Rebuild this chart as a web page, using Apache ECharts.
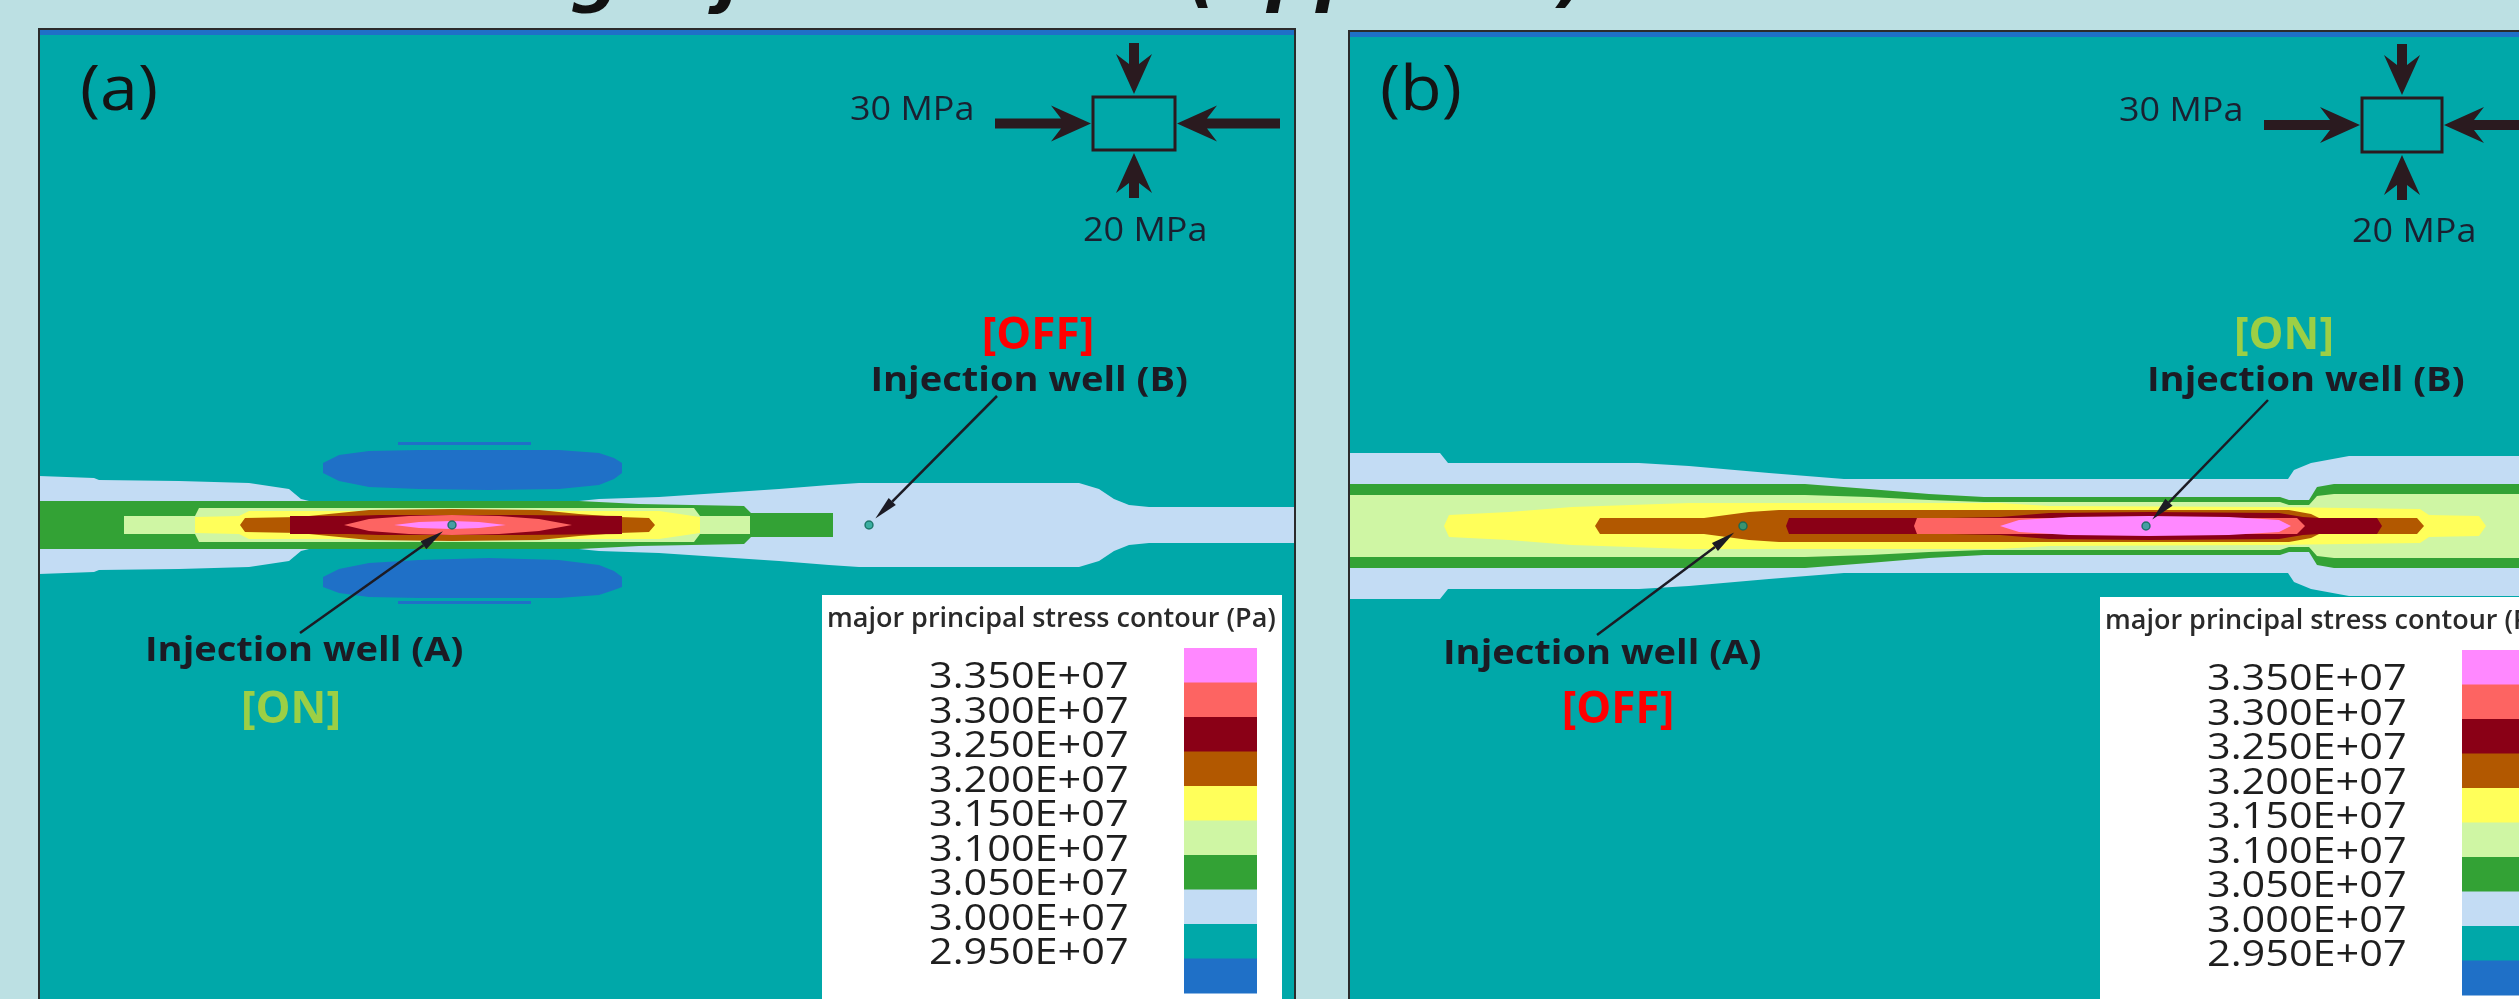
<!DOCTYPE html>
<html>
<head>
<meta charset="utf-8">
<script src="https://cdn.jsdelivr.net/npm/echarts@6/dist/echarts.min.js"></script>
<style>
  html, body { margin: 0; padding: 0; background: #bce0e3; }
  #chart { width: 2519px; height: 999px; }
</style>
</head>
<body>
<div id="chart"></div>
<script>
// Contour levels printed on the colour key (Pa), highest first
const levelLabels = ['3.350E+07', '3.300E+07', '3.250E+07', '3.200E+07', '3.150E+07',
                     '3.100E+07', '3.050E+07', '3.000E+07', '2.950E+07'];
// Key colours, top to bottom: >=3.35, 3.30-3.35, ..., 2.95-3.00, <2.95
const keyColors = ['#ff88ff', '#fd6462', '#8a0016', '#b25800', '#ffff5a',
                   '#cff6a4', '#33a235', '#c3dcf4', '#00a8a9', '#1f70c7'];
// colour index per stress band
const C = { p335: 0, p330: 1, p325: 2, p320: 3, p315: 4, p310: 5, p305: 6, p300: 7, bg: 8, low: 9 };

// ---- Panel (a): well A injecting, well B shut in ----
// symmetric bands: [x along fracture line, half-thickness]  (model units)
const aAbove300 = [[0,49],[55,47],[60,45],[140,44],[210,42],[250,36],[262,26],[270,24],[540,24],[560,26],[620,28],[680,32],[740,36],[790,40],[820,42],[1040,42],[1060,36],[1075,26],[1090,20],[1110,18],[1256,18]];
const aAbove305 = [[0,24],[540,24],[600,21],[705,19],[712,12],[794,12]];
const aAbove310 = [[85,9],[156,9],[160,17],[655,17],[661,9],[711,9]];
const aAbove315 = [[156,8],[200,9],[210,14],[620,14],[661,8]];
const aAbove320 = [[201,0],[206,7],[260,8],[300,12],[330,15],[413,16],[500,15],[540,11],[580,8],[610,7],[616,0]];
const aAbove325 = [[251,9],[310,9],[340,10],[413,10],[480,10],[583,9]];
const aAbove330 = [[305,0],[330,6],[370,9],[413,10],[460,9],[500,6],[533,0]];
const aAbove335 = [[355,0],[380,3],[413,4],[440,3],[467,0]];
// unsymmetric low-stress zones: [x, lower edge, upper edge]
const aTopLow   = [[0,490,496],[1256,490,496]];
const aLobeUp   = [[284,52,62],[300,44,70],[330,38,74],[380,36,75],[450,35,75],[520,36,75],[560,40,72],[575,46,67],[583,52,62]];
const aLineUp   = [[359,80,83],[492,80,83]];
const aLobeDown = [[284,-62,-52],[300,-68,-44],[330,-72,-38],[380,-73,-35],[450,-73,-33],[520,-73,-35],[560,-70,-40],[575,-65,-46],[583,-62,-52]];
const aLineDown = [[359,-79,-76],[492,-79,-76]];
const aWells = [[413, 0], [830, 0]];

// ---- Panel (b): well B injecting, well A shut in ----
const bAbove300 = [[0,73],[91,73],[99,63],[290,63],[340,60],[420,53],[495,47],[939,47],[945,56],[962,63],[1000,70],[1256,70]];
const bAbove305 = [[0,42],[456,42],[520,37],[580,32],[635,29],[931,29],[940,26],[960,26],[968,39],[985,42],[1256,42]];
const bAbove310 = [[0,31],[456,31],[520,29],[580,26],[635,24],[931,24],[940,21],[960,21],[968,30],[985,32],[1256,32]];
const bAbove315 = [[95,0],[100,11],[160,14],[223,19],[340,23],[651,23],[700,20],[923,19],[1071,17],[1080,11],[1130,10],[1137,0]];
const bAbove320 = [[246,0],[251,8],[355,8],[400,14],[430,16],[940,16],[962,12],[970,8],[1068,8],[1075,0]];
const bAbove325 = [[437,0],[440,8],[561,8],[600,8],[651,9],[700,13],[800,14],[930,13],[954,9],[970,8],[1028,8],[1033,0]];
const bAbove330 = [[565,0],[568,8],[948,8],[956,0]];
const bAbove335 = [[651,0],[670,6],[720,9],[800,10],[880,9],[930,6],[942,0]];
const bTopLow   = [[0,489,495],[1256,489,495]];
const bWells = [[394, 0], [797, 0]];

// painter's order: low zones first, then each band drawn over the one below it
const fieldA = [
  { c: C.low, pts: aTopLow }, { c: C.low, pts: aLobeUp }, { c: C.low, pts: aLineUp },
  { c: C.low, pts: aLobeDown }, { c: C.low, pts: aLineDown },
  { c: C.p300, sym: true, pts: aAbove300 }, { c: C.p305, sym: true, pts: aAbove305 },
  { c: C.p310, sym: true, pts: aAbove310 }, { c: C.p315, sym: true, pts: aAbove315 },
  { c: C.p320, sym: true, pts: aAbove320 }, { c: C.p325, sym: true, pts: aAbove325 },
  { c: C.p330, sym: true, pts: aAbove330 }, { c: C.p335, sym: true, pts: aAbove335 }
];
const fieldB = [
  { c: C.low, pts: bTopLow },
  { c: C.p300, sym: true, pts: bAbove300 }, { c: C.p305, sym: true, pts: bAbove305 },
  { c: C.p310, sym: true, pts: bAbove310 }, { c: C.p315, sym: true, pts: bAbove315 },
  { c: C.p320, sym: true, pts: bAbove320 }, { c: C.p325, sym: true, pts: bAbove325 },
  { c: C.p330, sym: true, pts: bAbove330 }, { c: C.p335, sym: true, pts: bAbove335 }
];

// visible part of each model window (the panels run past the page edge)
const VIEW = [
  { left: 39,   top: 29, xMax: 1256, yMin: -474, yMax: 496 },
  { left: 1349, top: 31, xMax: 1170, yMin: -473, yMax: 495 }
];

function bandPoints(api, band) {
  const out = [];
  const p = band.pts;
  if (band.sym) {
    for (let i = 0; i < p.length; i++) out.push(api.coord([p[i][0], p[i][1]]));
    for (let i = p.length - 1; i >= 0; i--) out.push(api.coord([p[i][0], -p[i][1]]));
  } else {
    for (let i = 0; i < p.length; i++) out.push(api.coord([p[i][0], p[i][2]]));
    for (let i = p.length - 1; i >= 0; i--) out.push(api.coord([p[i][0], p[i][1]]));
  }
  return out;
}

function fieldSeries(field, idx) {
  return {
    type: 'custom',
    coordinateSystem: 'cartesian2d',
    xAxisIndex: idx, yAxisIndex: idx,
    clip: true,
    silent: true,
    data: field.map((b, i) => [i, 0]),
    renderItem: (params, api) => {
      const band = field[params.dataIndex];
      return { type: 'polygon', shape: { points: bandPoints(api, band) },
               style: { fill: keyColors[band.c], stroke: null } };
    }
  };
}

function wellSeries(wells, idx) {
  return {
    type: 'scatter', xAxisIndex: idx, yAxisIndex: idx, data: wells,
    symbol: 'circle', symbolSize: 8, silent: true,
    itemStyle: { color: '#1aa38c', borderColor: '#0c6656', borderWidth: 1.5 }, z: 5
  };
}

const chart = echarts.init(document.getElementById('chart'));

chart.setOption({
  backgroundColor: '#bce0e3',
  animation: false,
  grid: VIEW.map(v => ({
    left: v.left, top: v.top, width: v.xMax, height: v.yMax - v.yMin,
    show: true, backgroundColor: keyColors[C.bg], borderWidth: 0
  })),
  xAxis: VIEW.map((v, i) => ({ type: 'value', gridIndex: i, min: 0, max: v.xMax, show: false })),
  yAxis: VIEW.map((v, i) => ({ type: 'value', gridIndex: i, min: v.yMin, max: v.yMax, show: false })),
  series: [fieldSeries(fieldA, 0), fieldSeries(fieldB, 1), wellSeries(aWells, 0), wellSeries(bWells, 1)]
});

// ---------- annotations ----------
const INK = '#1c1b24';
const ARROW_INK = '#2a1a1f';

function blockArrow(x1, y1, x2, y2, shaft, headW, headL) {
  const L = Math.hypot(x2 - x1, y2 - y1);
  const ux = (x2 - x1) / L, uy = (y2 - y1) / L;
  const nx = -uy, ny = ux;
  const bx = x2 - ux * headL, by = y2 - uy * headL;
  const bx2 = x2 - ux * headL * 0.75, by2 = y2 - uy * headL * 0.75;
  const s = shaft / 2, h = headW / 2;
  return [
    [x1 + nx * s, y1 + ny * s], [bx2 + nx * s, by2 + ny * s], [bx + nx * h, by + ny * h],
    [x2, y2],
    [bx - nx * h, by - ny * h], [bx2 - nx * s, by2 - ny * s], [x1 - nx * s, y1 - ny * s]
  ];
}

function text(str, x, y, font, fill, extra, align) {
  return Object.assign({ type: 'text', x: x, y: y, z: 21,
    style: { text: str, font: font, fill: fill, verticalAlign: 'middle', align: align || 'left' } }, extra || {});
}

function stressDiagram(dx, dy, bw, bh) {
  const bx = 1093 + dx, by = 97 + dy;
  const cx = bx + bw / 2, cy = by + bh / 2;
  const g = [];
  g.push({ type: 'rect', shape: { x: bx, y: by, width: bw, height: bh },
           style: { fill: null, stroke: ARROW_INK, lineWidth: 3 }, z: 20 });
  const arrows = [
    [bx - 98, cy, bx - 2, cy], [bx + bw + 105, cy, bx + bw + 2, cy],
    [cx, by - 54, cx, by - 3], [cx, by + bh + 48, cx, by + bh + 3]
  ];
  arrows.forEach(a => g.push({ type: 'polygon', shape: { points: blockArrow(a[0], a[1], a[2], a[3], 10, 36, 40) },
                               style: { fill: ARROW_INK }, z: 20 }));
  g.push(text('30 MPa', 850 + dx, 111 + dy, '400 33px "Open Sans"', '#1b2030', { scaleX: 1.09 }));
  g.push(text('20 MPa', 1083 + dx, 232 + dy, '400 33px "Open Sans"', '#1b2030', { scaleX: 1.09 }));
  return g;
}

function pointer(x1, y1, tip) {
  const [x2, y2] = tip;
  const L = Math.hypot(x2 - x1, y2 - y1);
  const ux = (x2 - x1) / L, uy = (y2 - y1) / L;
  const nx = -uy, ny = ux;
  const hl = 24, hw = 5;
  const bx = x2 - ux * hl, by = y2 - uy * hl;
  return [
    { type: 'line', shape: { x1: x1, y1: y1, x2: bx, y2: by }, style: { stroke: INK, lineWidth: 2.5 }, z: 20 },
    { type: 'polygon', shape: { points: [[x2, y2], [bx + nx * hw, by + ny * hw], [bx - nx * hw, by - ny * hw]] },
      style: { fill: INK }, z: 20 }
  ];
}

// point a few pixels short of a well, seen from (x, y)
function nearWell(gridIndex, well, x, y, gap) {
  const p = chart.convertToPixel({ gridIndex: gridIndex }, well);
  const L = Math.hypot(p[0] - x, p[1] - y);
  return [p[0] - (p[0] - x) / L * gap, p[1] - (p[1] - y) / L * gap];
}

function key(dx, dy) {
  const g = [];
  g.push({ type: 'rect', shape: { x: 822 + dx, y: 595 + dy, width: 460, height: 430 },
           style: { fill: '#ffffff' }, z: 15 });
  g.push(text('major principal stress contour (Pa)', 827 + dx, 619 + dy,
              '600 27px "Open Sans"', '#2a2a2a', { z: 16 }));
  const step = 34.5;
  keyColors.forEach((c, i) => g.push({ type: 'rect',
    shape: { x: 1184 + dx, y: 648 + dy + i * step, width: 73, height: step + 0.5 },
    style: { fill: c }, z: 16 }));
  levelLabels.forEach((t, i) => g.push(text(t, 929 + dx, 678 + dy + i * step,
    '400 36px "Open Sans"', '#1e1e1e', { z: 16, scaleX: 1.15 })));
  return g;
}

const LABEL_FONT = '700 34px "Open Sans"';
const TAG_FONT = '700 44px "Open Sans"';
const WIDE = { scaleX: 1.12 };
const ON_GREEN = '#9ccf45';
const OFF_RED = '#ff0000';

const graphics = [];
// heading line above the panels
graphics.push(text('Switching injection well (opposite)', 238, -19,
                   'italic 700 69px "DejaVu Sans"', '#111111', { z: 30 }));

// panel frames
VIEW.forEach(v => graphics.push({ type: 'rect',
  shape: { x: v.left, y: v.top, width: 1256, height: 1100 },
  style: { fill: null, stroke: '#2b2b2b', lineWidth: 2 }, z: 12 }));

// panel tags
graphics.push(text('(a)', 80, 92, '400 62px "Open Sans"', '#141414', { scaleX: 1.1 }));
graphics.push(text('(b)', 1380, 92, '400 62px "Open Sans"', '#141414', { scaleX: 1.1 }));

// far-field stress sketches
graphics.push(...stressDiagram(0, 0, 82, 53));
graphics.push(...stressDiagram(1269, 1, 80, 54));

// colour keys
graphics.push(...key(0, 0));
graphics.push(...key(1278, 2));

// panel (a) well labels
graphics.push(text('[OFF]', 1038, 336, TAG_FONT, OFF_RED, null, 'center'));
graphics.push(text('Injection well (B)', 1188, 381, LABEL_FONT, INK, WIDE, 'right'));
graphics.push(...pointer(997, 396, nearWell(0, aWells[1], 997, 396, 9)));
graphics.push(text('Injection well (A)', 145, 651, LABEL_FONT, INK, WIDE));
graphics.push(text('[ON]', 291, 710, TAG_FONT, ON_GREEN, null, 'center'));
graphics.push(...pointer(300, 633, nearWell(0, aWells[0], 300, 633, 11)));

// panel (b) well labels
graphics.push(text('[ON]', 2284, 336, TAG_FONT, ON_GREEN, null, 'center'));
graphics.push(text('Injection well (B)', 2147, 381, LABEL_FONT, INK, WIDE));
graphics.push(...pointer(2268, 400, nearWell(1, bWells[1], 2268, 400, 9)));
graphics.push(text('Injection well (A)', 1443, 654, LABEL_FONT, INK, WIDE));
graphics.push(text('[OFF]', 1618, 710, TAG_FONT, OFF_RED, null, 'center'));
graphics.push(...pointer(1597, 635, nearWell(1, bWells[0], 1597, 635, 11)));

chart.setOption({ graphic: { elements: graphics } });
</script>
</body>
</html>
